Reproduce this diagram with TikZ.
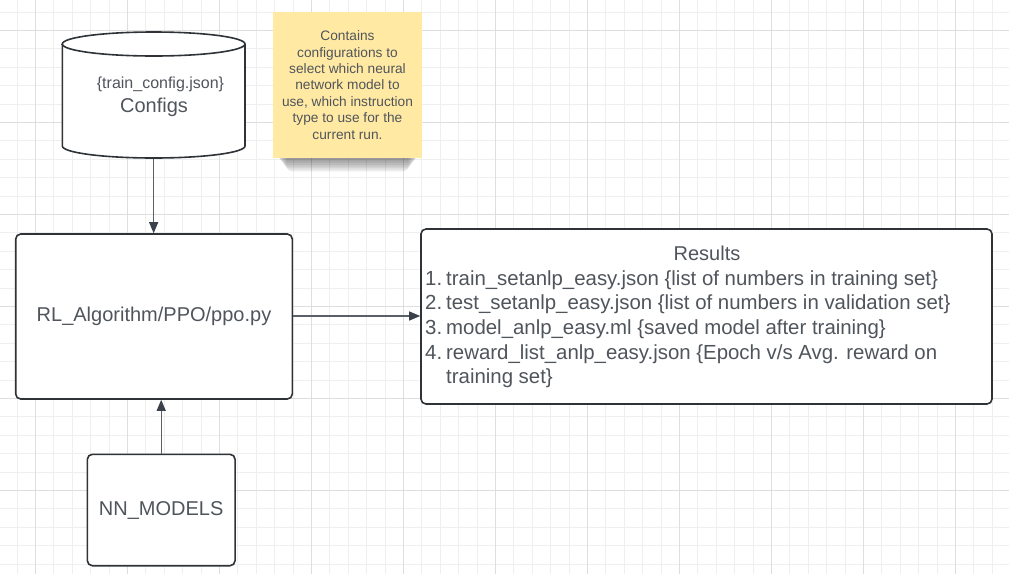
\documentclass[tikz,border=0pt]{standalone}
\usepackage{fontspec}
\setmainfont{Liberation Sans}
\usetikzlibrary{arrows.meta}
\definecolor{gridminor}{HTML}{EFEFEF}
\definecolor{gridmajor}{HTML}{DEDEDE}
\definecolor{txt}{HTML}{50555C}
\definecolor{edge}{HTML}{2F3337}
\definecolor{conn}{HTML}{5A6068}
\definecolor{headc}{HTML}{3A414A}
\definecolor{notey}{HTML}{FFE9A3}
\tikzset{
  shapeline/.style={draw=edge, line width=1.6pt},
  box/.style={shapeline, fill=white, rounded corners=5pt, inner sep=0pt, text=txt, font=\fontsize{20}{24}\selectfont},
  conn/.style={draw=conn, line width=1.1pt, -{Triangle[length=11pt,width=9pt,color=headc]}},
  listtxt/.style={anchor=base west, inner sep=0pt, text=txt, font=\fontsize{20.4}{24}\selectfont},
}
\begin{document}
\begin{tikzpicture}[x=1pt,y=-1pt]
\useasboundingbox (0,0) rectangle (1009,574);
\fill[white] (0,0) rectangle (1009,574);
% grid
\foreach \i in {0,...,54}{
  \pgfmathsetmacro\xx{16.9+18.4*\i}
  \draw[gridminor, line width=0.8pt] (\xx,0) -- (\xx,574);
}
\foreach \j in {0,...,31}{
  \pgfmathsetmacro\yy{11.9+18.4*\j}
  \draw[gridminor, line width=0.8pt] (0,\yy) -- (1009,\yy);
}
\foreach \i in {0,...,10}{
  \pgfmathsetmacro\xx{35.3+92*\i}
  \draw[gridmajor, line width=0.9pt] (\xx,0) -- (\xx,574);
}
\foreach \j in {0,...,6}{
  \pgfmathsetmacro\yy{30.3+92*\j}
  \draw[gridmajor, line width=0.9pt] (0,\yy) -- (1009,\yy);
}
% cylinder (Configs)
\path[shapeline, fill=white] (62.3,44) -- (62.3,146)
  arc[start angle=180, end angle=0, x radius=91.35, y radius=12]
  -- (245,44)
  arc[start angle=360, end angle=180, x radius=91.35, y radius=12] -- cycle;
\draw[shapeline] (62.3,44) arc[start angle=180, end angle=0, x radius=91.35, y radius=12];
\node[minimum width=182.7pt, minimum height=126pt, inner sep=0pt] (cfg) at (153.65,95.3) {};
\node[anchor=base, text=txt, inner sep=0pt, font=\fontsize{16}{19}\selectfont] (cfgfile) at (160.5,88.8) {\{train\_config.json\}};
\node[anchor=base, text=txt, inner sep=0pt, font=\fontsize{20}{24}\selectfont] (cfgname) at (154,112.7) {Configs};
% sticky note shadow
\foreach \k in {1,...,8}{
  \fill[black, opacity=0.06, rounded corners=6pt] (276+\k*1.3,140) rectangle (419-\k*1.3,158+\k*1.7);
}
\node[fill=notey, minimum width=148.4pt, minimum height=146pt, inner sep=0pt, text=txt, align=center,
  font=\fontsize{13.7}{16.4}\selectfont] (note) at (347.5,85)
  {Contains\\configurations to\\select which neural\\network model to\\use, which instruction\\type to use for the\\current run.};
% main boxes
\node[box, minimum width=276.6pt, minimum height=165pt] (rl) at (154,316.5) {RL\_Algorithm/PPO/ppo.py};
\node[box, minimum width=571pt, minimum height=175pt] (res) at (706.5,316.5) {};
\node[box, minimum width=147.7pt, minimum height=111.4pt] (nn) at (161.2,510) {NN\_MODELS};
% results text
\node[anchor=base, text=txt, inner sep=0pt, font=\fontsize{20}{24}\selectfont] (restitle) at (707,260.5) {Results};
\node[listtxt] (n1) at (425,285) {1.};
\node[listtxt] (l1) at (446,285) {train\_setanlp\_easy.json \{list of numbers in training set\}};
\node[listtxt] (n2) at (425,309.7) {2.};
\node[listtxt] (l2) at (446,309.7) {test\_setanlp\_easy.json \{list of numbers in validation set\}};
\node[listtxt] (n3) at (425,334.4) {3.};
\node[listtxt] (l3) at (446,334.4) {model\_anlp\_easy.ml \{saved model after training\}};
\node[listtxt] (n4) at (425,359.1) {4.};
\node[listtxt] (l4) at (446,359.1) {reward\_list\_anlp\_easy.json \{Epoch v/s Avg. reward on};
\node[listtxt] (l5) at (446,383.8) {training set\}};
% connectors
\draw[conn] (cfg.south) -- (cfg.south |- rl.north);
\draw[conn] (rl.east |- 0,316) -- (res.west |- 0,316);
\draw[conn] (nn.north) -- (nn.north |- rl.south);
\end{tikzpicture}
\end{document}
